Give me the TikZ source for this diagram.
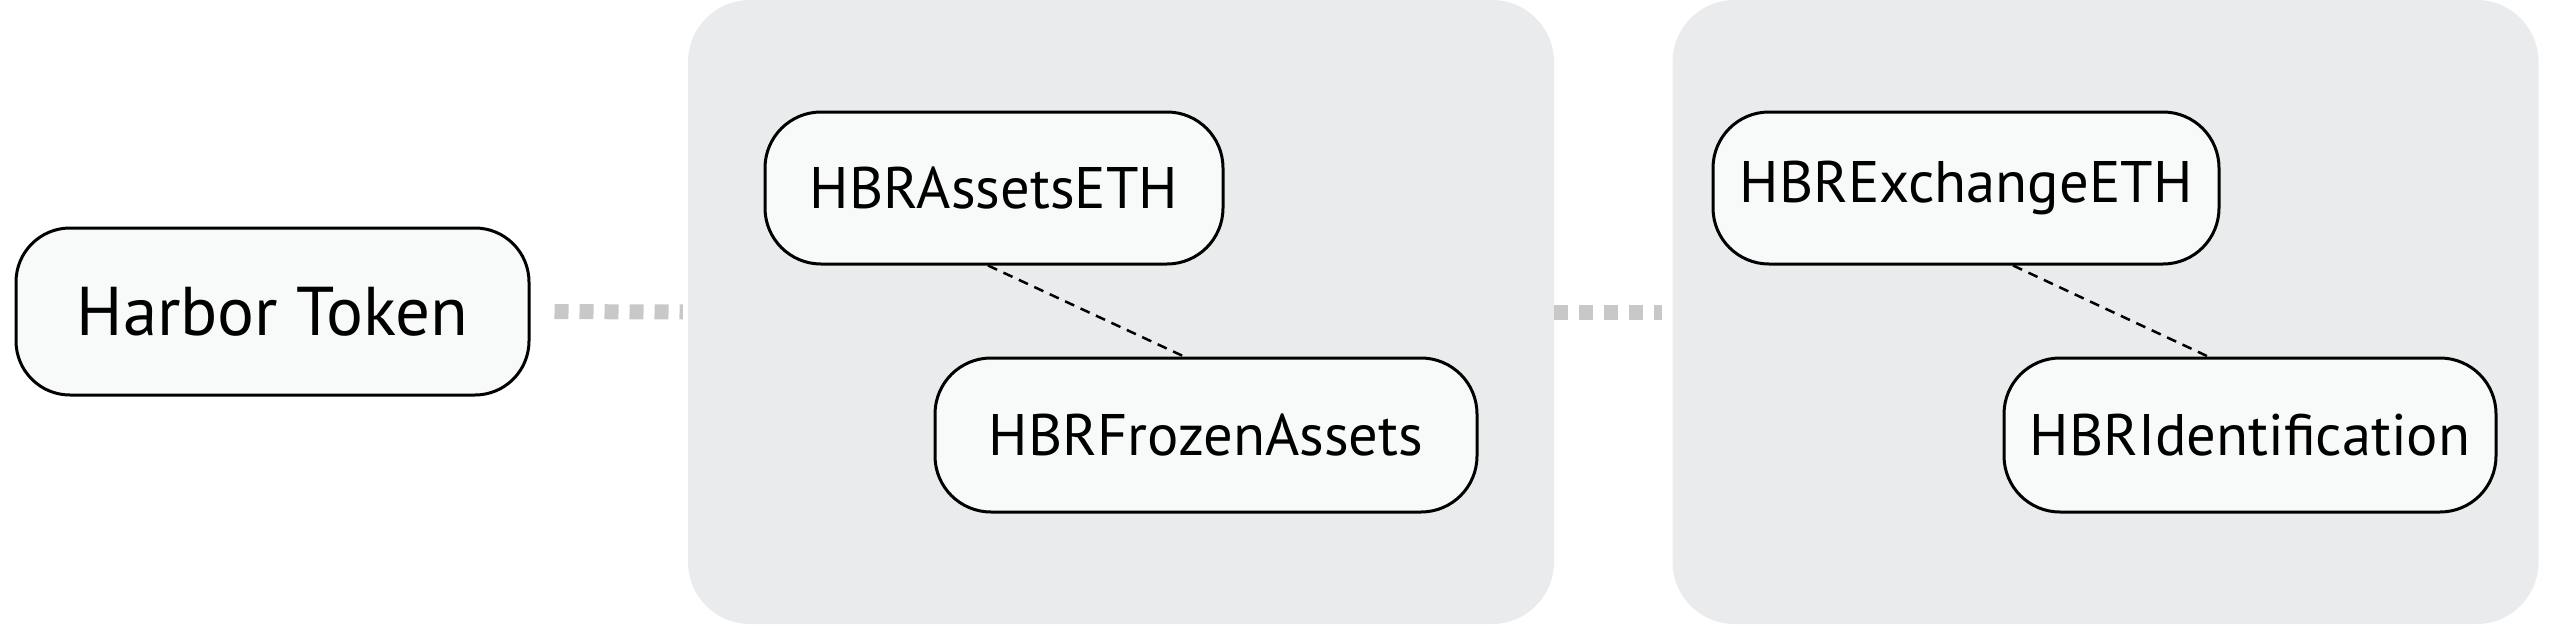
\documentclass[tikz,border=0pt]{standalone}
\usepackage{fontspec}
\setmainfont{PT Sans}
\definecolor{clusterfill}{HTML}{EAEBED}
\definecolor{boxfill}{HTML}{F8F9F9}
\definecolor{linkgrey}{HTML}{C8C8C8}
\begin{document}
\begin{tikzpicture}[x=1pt,y=-1pt,
  cluster/.style={fill=clusterfill, rounded corners=62pt, inner sep=0pt, minimum width=866pt, minimum height=624pt},
  box/.style={draw=black, line width=3pt, fill=boxfill, rounded corners=56pt, inner sep=0pt, minimum height=152pt, font=\fontsize{58.6}{70}\selectfont},
  link/.style={draw=linkgrey, line width=15pt, dash pattern=on 14pt off 11pt},
  dep/.style={draw=black, line width=2.5pt, dash pattern=on 10pt off 7pt}]
\useasboundingbox (0,0) rectangle (2551,624);
\node[cluster] (c1) at (1121,312) {};
\node[cluster] (c2) at (2105.5,312) {};
\node[box, minimum width=513pt, minimum height=167pt, rounded corners=54pt, font=\fontsize{69}{80}\selectfont] (ht) at (272.5,311.5) {Harbor Token};
\node[box, minimum width=458pt] (ae) at (994,188) {HBRAssetsETH};
\node[box, minimum width=542pt, minimum height=154pt] (fa) at (1206,435) {HBRFrozenAssets};
\node[box, minimum width=506pt] (ex) at (1966,188) {HBRExchangeETH};
\node[box, minimum width=492pt, minimum height=154pt] (id) at (2250,435) {HBRIdentification};
\draw[link, shorten <=24pt, shorten >=5pt] (ht.east) -- (c1.west);
\draw[link, shorten <=0pt, shorten >=10pt] (c1.east) -- (c2.west);
\draw[dep] (ae.south -| 988,0) -- (fa.north -| 1184,0);
\draw[dep] (ex.south -| 2013,0) -- (id.north -| 2208,0);
\end{tikzpicture}
\end{document}
